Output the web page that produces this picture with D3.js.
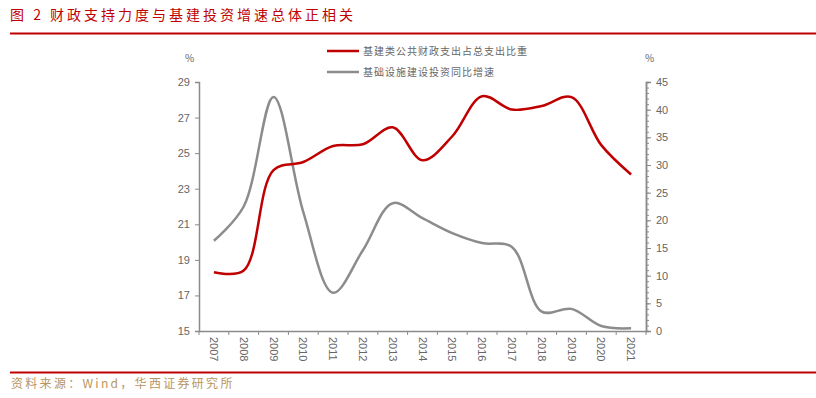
<!DOCTYPE html>
<html>
<head>
<meta charset="utf-8">
<script src="https://cdn.jsdelivr.net/npm/d3@7"></script>
<style>
  body { margin: 0; background: #fff; }
  svg text { font-family: "Noto Sans CJK SC", "Liberation Sans", sans-serif; }
</style>
</head>
<body>
<div id="chart"></div>
<script>
// data
var years = ["2007","2008","2009","2010","2011","2012","2013","2014","2015","2016","2017","2018","2019","2020","2021"];
var shareSeries = [18.3, 18.4, 24.05, 24.5, 25.4, 25.5, 26.45, 24.6, 25.95, 28.2, 27.45, 27.65, 28.15, 25.45, 23.8];
var investSeries = [16.3, 22.5, 42.3, 21.5, 6.9, 14.6, 23.1, 20.4, 17.7, 15.9, 15.2, 3.5, 4.0, 0.9, 0.5];
var leftTicks = [15, 17, 19, 21, 23, 25, 27, 29];
var rightTicks = [0, 5, 10, 15, 20, 25, 30, 35, 40, 45];
var legendNames = ["基建类公共财政支出占总支出比重", "基础设施建设投资同比增速"];

function drawChart() {
    var W = 816, H = 398;
    var red = "#c00000", grey = "#8c8c8c", axisCol = "#8a8a8a", txtCol = "#666666";

    var svg = d3.select("#chart").append("svg")
        .attr("width", W).attr("height", H);

    // title and rules
    svg.append("text").attr("x", 10).attr("y", 20)
        .attr("fill", red).style("font-size", "14px")
        .style("letter-spacing", "3px")
        .text("图 2 财政支持力度与基建投资增速总体正相关");
    svg.append("line").attr("x1", 10).attr("x2", 816).attr("y1", 33.5).attr("y2", 33.5)
        .attr("stroke", red).attr("stroke-width", 2);
    svg.append("line").attr("x1", 10).attr("x2", 816).attr("y1", 372.5).attr("y2", 372.5)
        .attr("stroke", red).attr("stroke-width", 2);
    svg.append("text").attr("x", 11).attr("y", 388)
        .attr("fill", "#b89560").style("font-size", "12px")
        .style("letter-spacing", "2.3px")
        .text("资料来源：Wind，华西证券研究所");

    var pL = 199, pR = 646, pT = 82, pB = 331;

    var x = d3.scaleBand().domain(years).range([pL, pR]);
    var yL = d3.scaleLinear().domain([15, 29]).range([pB, pT]);
    var yR = d3.scaleLinear().domain([0, 45]).range([pB, pT]);

    // left axis
    var gL = svg.append("g").attr("transform", "translate(" + pL + ",0)")
        .call(d3.axisLeft(yL).tickValues(leftTicks).tickSize(4).tickPadding(5));
    // right axis with minor ticks
    var gRm = svg.append("g").attr("transform", "translate(" + pR + ",0)")
        .call(d3.axisRight(yR).tickValues(d3.range(0, 46, 1)).tickSize(3).tickFormat(""));
    var gR = svg.append("g").attr("transform", "translate(" + pR + ",0)")
        .call(d3.axisRight(yR).tickValues(rightTicks).tickSize(5).tickPadding(5));
    // x axis
    var gX = svg.append("g").attr("transform", "translate(0," + pB + ")")
        .call(d3.axisBottom(x).tickSize(0).tickPadding(6));
    gX.selectAll(".tick text")
        .attr("transform", "rotate(90)")
        .attr("x", 6).attr("y", 0).attr("dy", "0.35em")
        .style("text-anchor", "start");
    svg.append("g").selectAll("line")
        .data(d3.range(0, years.length + 1))
        .join("line")
        .attr("x1", function(i) { return pL + i * x.step(); })
        .attr("x2", function(i) { return pL + i * x.step(); })
        .attr("y1", pB).attr("y2", pB + 4)
        .attr("stroke", axisCol);

    [gL, gR, gRm, gX].forEach(function(g) {
        g.select(".domain").attr("stroke", axisCol).attr("stroke-width", 1.5);
        g.selectAll(".tick line").attr("stroke", axisCol);
        g.selectAll(".tick text").attr("fill", txtCol).style("font-size", "11px")
            .style("font-family", "Liberation Sans, sans-serif");
    });

    svg.append("text").attr("x", 185).attr("y", 62).attr("fill", txtCol)
        .style("font-size", "10px").text("%");
    svg.append("text").attr("x", 645).attr("y", 62).attr("fill", txtCol)
        .style("font-size", "10px").text("%");

    // lines
    var lineL = d3.line()
        .x(function(d, i) { return x(years[i]) + x.bandwidth() / 2; })
        .y(function(d) { return yL(d); })
        .curve(d3.curveCatmullRom.alpha(0.5));
    var lineR = d3.line()
        .x(function(d, i) { return x(years[i]) + x.bandwidth() / 2; })
        .y(function(d) { return yR(d); })
        .curve(d3.curveCatmullRom.alpha(0.5));

    svg.append("path").datum(investSeries)
        .attr("fill", "none").attr("stroke", grey).attr("stroke-width", 2.5)
        .attr("d", lineR);
    svg.append("path").datum(shareSeries)
        .attr("fill", "none").attr("stroke", red).attr("stroke-width", 2.5)
        .attr("d", lineL);

    // legend
    var legend = svg.append("g");
    [red, grey].forEach(function(c, i) {
        var yy = 51 + i * 21;
        legend.append("line").attr("x1", 327).attr("x2", 359).attr("y1", yy).attr("y2", yy)
            .attr("stroke", c).attr("stroke-width", 2.5);
        legend.append("text").attr("x", 363).attr("y", yy + 3.5)
            .attr("fill", txtCol).style("font-size", "10px")
            .style("letter-spacing", "1px")
            .text(legendNames[i]);
    });
}

drawChart();
</script>
</body>
</html>
